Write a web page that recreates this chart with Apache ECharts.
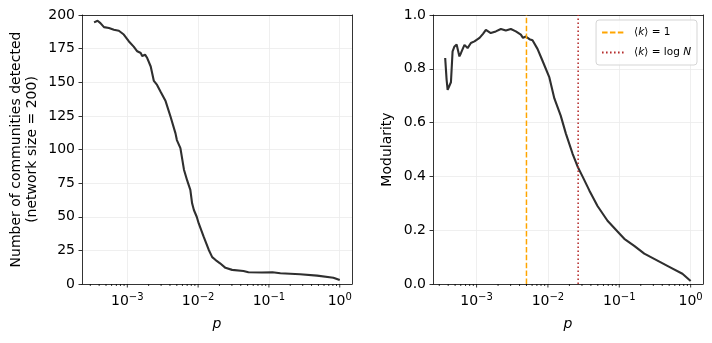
<!DOCTYPE html>
<html><head><meta charset="utf-8">
<script src="https://cdn.jsdelivr.net/npm/echarts@6/dist/echarts.min.js"></script>
<style>html,body{margin:0;padding:0;background:#fff}#c{width:712px;height:343px}</style>
</head><body><div id="c"></div>
<script>
// ---- data ----
const pLeft = [3.39e-4,3.80e-4,4.17e-4,4.68e-4,5.50e-4,6.46e-4,7.59e-4,8.91e-4,1.047e-3,1.23e-3,1.38e-3,1.55e-3,1.62e-3,1.78e-3,1.91e-3,2.14e-3,2.37e-3,2.63e-3,2.95e-3,3.47e-3,4.07e-3,4.79e-3,5.01e-3,5.62e-3,6.31e-3,7.0e-3,7.76e-3,8.22e-3,8.71e-3,9.55e-3,1.02e-2,1.20e-2,1.41e-2,1.58e-2,1.75e-2,2.04e-2,2.43e-2,3.02e-2,4.37e-2,5.13e-2,7.94e-2,0.112,0.145,0.275,0.479,0.813,1.0];
const communities = [194.5,195.7,194,191,190.3,189,188.3,185.5,180.5,176.5,173,171.7,169.5,170.5,168,161.7,151,148,143,136,124.5,112,107,101,85,77,70,60,55,50,45,35,25.5,20,18,15.4,12,10.5,9.7,8.7,8.6,8.7,8,7.2,6.2,4.7,3];
const pRight = [3.63e-4,3.80e-4,3.93e-4,4.17e-4,4.37e-4,4.61e-4,4.90e-4,5.25e-4,5.75e-4,6.03e-4,6.76e-4,7.48e-4,8.32e-4,9.33e-4,1.10e-3,1.23e-3,1.35e-3,1.58e-3,1.86e-3,2.19e-3,2.57e-3,3.02e-3,3.55e-3,4.17e-3,4.47e-3,4.90e-3,5.50e-3,6.08e-3,7.14e-3,8.39e-3,1.047e-2,1.23e-2,1.51e-2,1.78e-2,2.21e-2,2.60e-2,3.05e-2,3.80e-2,4.95e-2,6.84e-2,9.44e-2,0.1175,0.162,0.224,0.343,0.525,0.767,1.0];
const modularity = [0.84,0.76,0.722,0.716,0.75,0.865,0.883,0.89,0.846,0.858,0.889,0.877,0.896,0.902,0.915,0.93,0.945,0.933,0.939,0.948,0.942,0.948,0.939,0.927,0.915,0.92,0.91,0.906,0.874,0.83,0.768,0.69,0.626,0.56,0.485,0.437,0.40,0.348,0.29,0.235,0.195,0.168,0.142,0.113,0.087,0.061,0.038,0.011];
const pK1 = 0.005;        // <k> = 1
const pKlogN = 0.0265;    // <k> = log N
const legendNames = ['\u27E8k\u27E9 = 1', '\u27E8k\u27E9 = log N'];
const leftYLabel = 'Number of communities detected\n(network size = 200)';
const rightYLabel = 'Modularity';
const xLabel = 'p';
const majorTicks = [1e-3, 1e-2, 1e-1, 1];
const minorTicks = [3e-4,4e-4,5e-4,6e-4,7e-4,8e-4,9e-4,2e-3,3e-3,4e-3,5e-3,6e-3,7e-3,8e-3,9e-3,2e-2,3e-2,4e-2,5e-2,6e-2,7e-2,8e-2,9e-2,0.2,0.3,0.4,0.5,0.6,0.7,0.8,0.9];
const leftYTicks = {min: 0, max: 200, interval: 25};
const rightYTicks = {min: 0, max: 1, interval: 0.2};
const xMinLeft = 2.29e-4, xMinRight = 2.45e-4, xMax = 1.49;

// ---- chart ----
const FONT = 'DejaVu Sans';
const chart = echarts.init(document.getElementById('c'));

function logLabel(v) {
  const e = Math.log10(v), r = Math.round(e);
  if (Math.abs(e - r) > 1e-6) return '';
  return '{b|10}{s|' + (r < 0 ? '\u2212' + (-r) : r) + '}';
}
function xAxis(idx, min) {
  return {
    type: 'log', logBase: 10, gridIndex: idx, min: min, max: xMax, position: 'bottom',
    axisLine: {show: true, onZero: false, lineStyle: {color: '#000', width: 0.8}},
    axisTick: {show: false}, minorTick: {show: false},
    splitLine: {show: true, showMinLine: false, showMaxLine: false, lineStyle: {color: '#ebebeb', width: 0.8}},
    axisLabel: {
      formatter: logLabel, margin: 8, interval: 0, hideOverlap: false,
      rich: {
        b: {fontFamily: FONT, fontSize: 14, color: '#000'},
        s: {fontFamily: FONT, fontSize: 10, color: '#000', padding: [0, 0, 9, 0]}
      }
    },
    name: xLabel, nameLocation: 'middle', nameGap: 33,
    nameTextStyle: {fontFamily: FONT, fontStyle: 'italic', fontSize: 14, color: '#000'}
  };
}
function frameX(idx, min) {
  return {
    type: 'log', logBase: 10, gridIndex: idx, min: min, max: xMax, position: 'top',
    axisLine: {show: true, onZero: false, lineStyle: {color: '#000', width: 0.8}},
    axisTick: {show: false}, axisLabel: {show: false}, splitLine: {show: false}
  };
}
function yAxis(idx, t, name, gap, fmt) {
  return {
    type: 'value', gridIndex: idx, min: t.min, max: t.max, interval: t.interval, position: 'left',
    axisLine: {show: true, lineStyle: {color: '#000', width: 0.8}},
    axisTick: {show: true, length: 3.5, lineStyle: {color: '#000', width: 0.8}},
    splitLine: {show: true, showMinLine: false, showMaxLine: false, lineStyle: {color: '#ebebeb', width: 0.8}},
    axisLabel: {fontFamily: FONT, fontSize: 14, color: '#000', margin: 7, formatter: fmt},
    name: name, nameLocation: 'middle', nameRotate: 90, nameGap: gap,
    nameTextStyle: {fontFamily: FONT, fontSize: 14, color: '#000', lineHeight: 16, align: 'center'}
  };
}
function frameY(idx, t) {
  return {
    type: 'value', gridIndex: idx, min: t.min, max: t.max, interval: t.interval, position: 'right',
    axisLine: {show: true, lineStyle: {color: '#000', width: 0.8}},
    axisTick: {show: false}, axisLabel: {show: false}, splitLine: {show: false}
  };
}
function tickSeries(idx, vals, len) {
  return {
    type: 'custom', xAxisIndex: idx, yAxisIndex: idx, silent: true, clip: false, z: 10,
    data: vals.map(p => [p, 0]),
    renderItem: (params, api) => {
      const pt = api.coord([api.value(0), api.value(1)]);
      return {type: 'line', shape: {x1: pt[0], y1: pt[1], x2: pt[0], y2: pt[1] + len},
              style: {stroke: '#000', lineWidth: 0.8}};
    }
  };
}
function curve(idx, xs, ys) {
  return {
    type: 'line', xAxisIndex: idx, yAxisIndex: idx, symbol: 'none', showSymbol: false,
    data: xs.map((p, i) => [p, ys[i]]), lineStyle: {color: '#2f2f2f', width: 2.1}, z: 3, silent: true
  };
}

chart.setOption({
  animation: false,
  backgroundColor: '#fff',
  textStyle: {fontFamily: FONT},
  grid: [
    {left: 82, right: 360, top: 15, bottom: 59},
    {left: 433, right: 9, top: 15, bottom: 59}
  ],
  xAxis: [xAxis(0, xMinLeft), xAxis(1, xMinRight), frameX(0, xMinLeft), frameX(1, xMinRight)],
  yAxis: [
    yAxis(0, leftYTicks, leftYLabel, 42, v => String(v)),
    yAxis(1, rightYTicks, rightYLabel, 38, v => v.toFixed(1)),
    frameY(0, leftYTicks), frameY(1, rightYTicks)
  ],
  legend: {
    data: legendNames, orient: 'vertical', right: 15, top: 20,
    padding: [7, 6, 7, 5], itemGap: 9, itemWidth: 23, itemHeight: 10,
    borderColor: '#d5d5d5', borderWidth: 1, borderRadius: 3,
    backgroundColor: 'rgba(255,255,255,0.8)',
    itemStyle: {opacity: 0},
    formatter: name => name === legendNames[0]
      ? '{n|\u27E8}{i|k}{n|\u27E9 = 1}'
      : '{n|\u27E8}{i|k}{n|\u27E9 = log }{i|N}',
    textStyle: {
      padding: [0, 0, 0, 4],
      rich: {
        n: {fontFamily: FONT, fontSize: 10.5, color: '#000'},
        i: {fontFamily: FONT, fontSize: 10.5, color: '#000', fontStyle: 'italic'}
      }
    }
  },
  series: [
    curve(0, pLeft, communities),
    curve(1, pRight, modularity),
    {
      name: legendNames[0], type: 'line', xAxisIndex: 1, yAxisIndex: 1, symbol: 'none', silent: true, z: 4,
      data: [[pK1, rightYTicks.min], [pK1, rightYTicks.max]],
      lineStyle: {color: '#ffa500', width: 1.5, type: [5.5, 2.4], cap: 'butt'}, itemStyle: {color: '#ffa500'}
    },
    {
      name: legendNames[1], type: 'line', xAxisIndex: 1, yAxisIndex: 1, symbol: 'none', silent: true, z: 4,
      data: [[pKlogN, rightYTicks.min], [pKlogN, rightYTicks.max]],
      lineStyle: {color: '#b22222', width: 1.5, type: [1.5, 2.5], cap: 'butt'}, itemStyle: {color: '#b22222'}
    },
    tickSeries(0, majorTicks, 3.5), tickSeries(0, minorTicks, 2),
    tickSeries(1, majorTicks, 3.5), tickSeries(1, minorTicks, 2)
  ]
});
</script>
</body></html>
